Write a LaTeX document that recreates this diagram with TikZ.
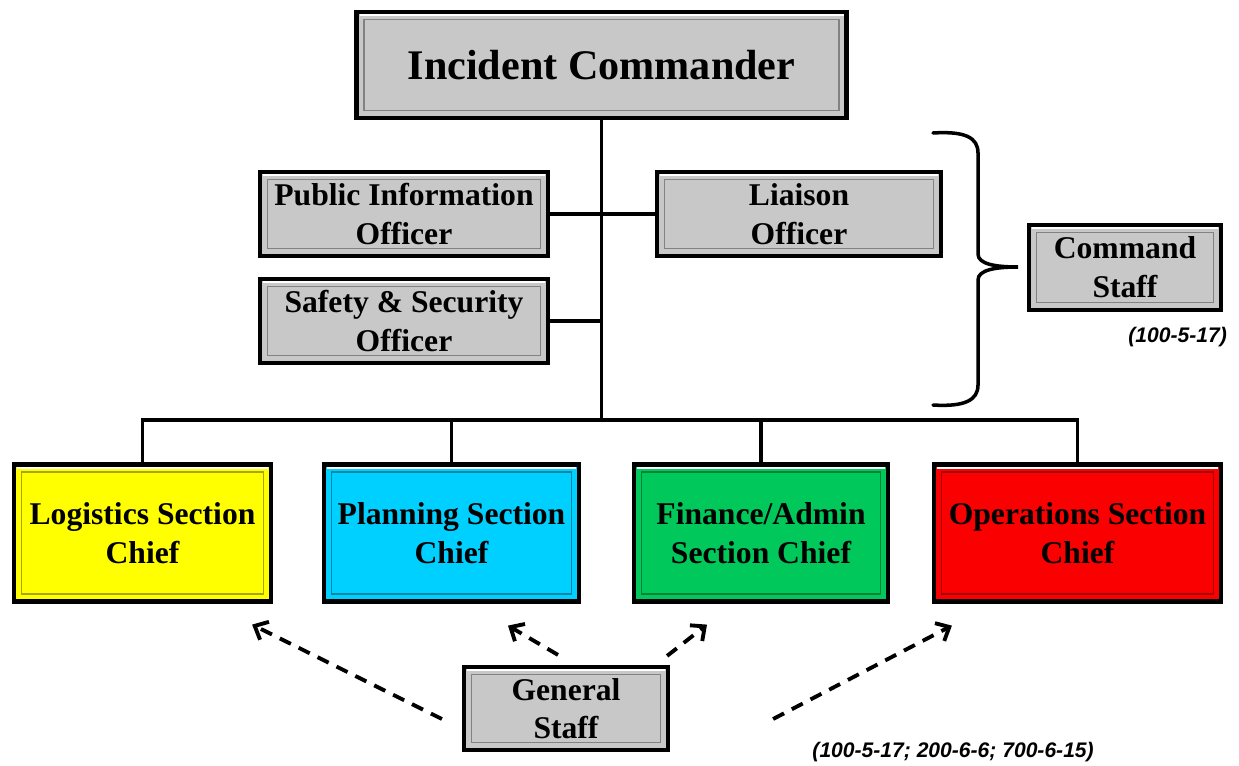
\documentclass[tikz,border=0pt]{standalone}
\usepackage{fontspec}
\setmainfont{Liberation Serif}
\newfontfamily\refsfont{Liberation Sans}
\usetikzlibrary{arrows.meta}

\definecolor{boxgray}{RGB}{200,200,200}
\definecolor{logyellow}{RGB}{255,255,0}
\definecolor{planblue}{RGB}{0,208,255}
\definecolor{fingreen}{RGB}{0,200,90}
\definecolor{opsred}{RGB}{250,0,0}

\tikzset{
  bevelbox/.style={draw=black, line width=2.4pt, fill=#1, align=center, inner sep=0pt,
    font=\bfseries\fontsize{18}{22}\selectfont,
    path picture={
      \draw[white, line width=1.6pt]
        ([shift={(0.06,-0.06)}]path picture bounding box.north west) --
        ([shift={(-0.06,-0.06)}]path picture bounding box.north east);
      \draw[#1!65!black, line width=0.6pt]
        ([shift={(0.15,0.15)}]path picture bounding box.south west) rectangle
        ([shift={(-0.15,-0.15)}]path picture bounding box.north east);
    }},
  staffbox/.style={bevelbox=boxgray},
  link/.style={line width=2.2pt},
  dasharrow/.style={link, dash pattern=on 7pt off 5pt, -{Straight Barb[length=2.2mm,width=4mm]}},
  refnote/.style={font=\refsfont\bfseries\itshape\fontsize{12}{14}\selectfont}
}

\begin{document}
\begin{tikzpicture}
\useasboundingbox (0,0) rectangle (24.78,-15.3);

% command staff
\node[staffbox, minimum width=9.8cm, minimum height=2.12cm, font=\bfseries\fontsize{24}{28}\selectfont]
  (ic) at (12.03,-1.3) {Incident Commander};
\node[staffbox, minimum width=5.76cm, minimum height=1.68cm] (pio) at (8.08,-4.28) {Public Information\\Officer};
\node[staffbox, minimum width=5.68cm, minimum height=1.68cm] (liaison) at (15.98,-4.28) {Liaison\\Officer};
\node[staffbox, minimum width=5.76cm, minimum height=1.68cm] (safety) at (8.08,-6.42) {Safety \& Security\\Officer};
\node[staffbox, minimum width=3.84cm, minimum height=1.7cm] (cmd) at (22.5,-5.35) {Command\\Staff};
\node[refnote, anchor=east] (cmdref) at ([shift={(0.2,-0.5)}]cmd.south east) {(100-5-17)};

% sections
\node[bevelbox=logyellow, minimum width=5.14cm, minimum height=2.74cm] (log) at (2.85,-10.66) {Logistics Section\\Chief};
\node[bevelbox=planblue, minimum width=5.1cm, minimum height=2.74cm] (plan) at (9.03,-10.66) {Planning Section\\Chief};
\node[bevelbox=fingreen, minimum width=5.08cm, minimum height=2.74cm] (fin) at (15.22,-10.66) {Finance/Admin\\Section Chief};
\node[bevelbox=opsred, minimum width=5.74cm, minimum height=2.74cm] (ops) at (21.55,-10.66) {Operations Section\\Chief};

\node[staffbox, minimum width=4.08cm, minimum height=1.66cm] (gs) at (11.32,-14.17) {General\\Staff};
\node[refnote, anchor=base east] (gsref) at (22.0,-15.14) {(100-5-17; 200-6-6; 700-6-15)};

% lines
\coordinate (hub) at (12.03,-8.4);
\draw[link] (ic.south) -- (hub);
\draw[link] (pio.east) -- (liaison.west);
\draw[link] (safety.east) -- (safety.east -| ic.south);
\foreach \s in {log,plan,fin,ops}
  \draw[link, line join=miter] (hub) -| (\s.north);

% brace
\coordinate (bracetip) at (20.36,-5.34);
\draw[link, line width=2pt, line cap=round] (18.66,-2.66) .. controls (19.3,-2.62) and (19.56,-2.75) .. (19.56,-3.06)
  -- (19.56,-5.08) .. controls (19.56,-5.28) and (19.9,-5.34) .. (bracetip)
  .. controls (19.9,-5.34) and (19.56,-5.4) .. (19.56,-5.6)
  -- (19.56,-7.7) .. controls (19.56,-8.0) and (19.3,-8.14) .. (18.66,-8.1);

% general staff arrows
\draw[dasharrow] ([shift={(-0.4,-0.21)}]gs.west) -- ([shift={(-0.42,-0.42)}]log.south east);
\draw[dasharrow] ([shift={(-0.16,0.2)}]gs.north) -- ([shift={(1.13,-0.44)}]plan.south);
\draw[dasharrow] ([shift={(-0.06,0.18)}]gs.north east) -- ([shift={(-1.08,-0.42)}]fin.south);
\draw[dasharrow] ([shift={(2.06,-0.21)}]gs.east) -- ([shift={(0.4,-0.44)}]ops.south west);
\end{tikzpicture}
\end{document}
